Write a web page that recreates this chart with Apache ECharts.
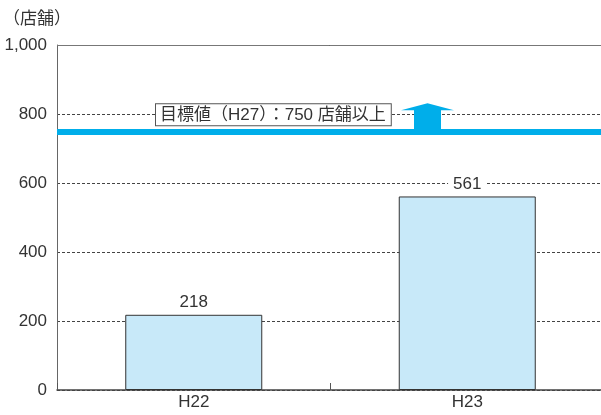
<!DOCTYPE html>
<html>
<head>
<meta charset="utf-8">
<script src="https://cdn.jsdelivr.net/npm/echarts@6/dist/echarts.min.js"></script>
<style>
  html, body { margin: 0; padding: 0; background: #fff; }
  #chart { width: 601px; height: 415px; }
</style>
</head>
<body>
<div id="chart"></div>
<script>
const categories = ['H22', 'H23']
const storeCounts = [218, 561]
const targetValue = 750
const targetLabel = '目標値（H27）：750 店舗以上'
const unitLabel = '（店舗）'

const FONT = '"Liberation Sans Narrow", "Liberation Sans", "Noto Sans CJK JP", sans-serif'
const TEXT = '#333'
const BLUE = '#00aeea'

const chart = echarts.init(document.getElementById('chart'))

chart.setOption({
  animation: false,
  textStyle: { fontFamily: FONT },
  title: {
    text: unitLabel, left: -2, top: 6,
    textStyle: { color: TEXT, fontSize: 17, fontWeight: 'normal', fontFamily: FONT },
  },
  grid: { left: 57, right: -3, top: 45, bottom: 25, outerBoundsMode: 'none' },
  xAxis: {
    type: 'category',
    data: categories,
    axisLine: { lineStyle: { color: '#444', width: 1.5 } },
    axisTick: { show: true, inside: true, length: 7, interval: 0, lineStyle: { color: '#555', width: 1 } },
    axisLabel: { color: TEXT, fontSize: 17, fontFamily: FONT, margin: 4 },
  },
  yAxis: {
    type: 'value',
    min: 0,
    max: 1000,
    interval: 200,
    axisLine: { show: true, lineStyle: { color: '#666', width: 1 } },
    axisTick: { show: false },
    axisLabel: {
      color: TEXT, fontSize: 17, fontFamily: FONT, margin: 10,
      formatter: v => v.toLocaleString('en-US'),
    },
    splitLine: { lineStyle: { color: '#444', type: [3, 2], width: 1 } },
  },
  series: [{
    type: 'bar',
    data: storeCounts,
    barWidth: 137,
    itemStyle: { color: '#c8e9f9', borderColor: '#333', borderWidth: 1 },
    label: {
      show: true, position: 'top', distance: 4,
      color: TEXT, fontSize: 17, fontFamily: FONT,
      backgroundColor: '#fff', padding: [0, 5],
    },
    markLine: {
      silent: true,
      symbol: 'none',
      data: [
        {
          yAxis: 1000,
          lineStyle: { color: '#777', width: 1, type: 'solid' },
          label: { show: false },
        },
        {
          yAxis: targetValue,
          lineStyle: { color: BLUE, width: 6, type: 'solid' },
          label: {
            show: true,
            position: 'insideStartTop',
            formatter: targetLabel,
            color: TEXT, fontSize: 17, fontFamily: FONT,
            backgroundColor: '#fff', borderColor: '#555', borderWidth: 1,
            padding: [3, 5, 1, 4],
            distance: [99, 6],
          },
        },
      ],
    },
  }],
})

// 目標の上向き矢印（750 のライン位置から算出）
function drawArrow() {
  const y = chart.convertToPixel({ yAxisIndex: 0 }, targetValue)
  const x = 427.5
  chart.setOption({
    graphic: [{
      type: 'polygon',
      z: 10,
      shape: {
        points: [
          [x - 13.5, y], [x - 13.5, y - 21], [x - 26.5, y - 21],
          [x, y - 28], [x + 26.5, y - 21], [x + 13.5, y - 21], [x + 13.5, y],
        ],
      },
      style: { fill: BLUE },
    }],
  })
}
drawArrow()
</script>
</body>
</html>
